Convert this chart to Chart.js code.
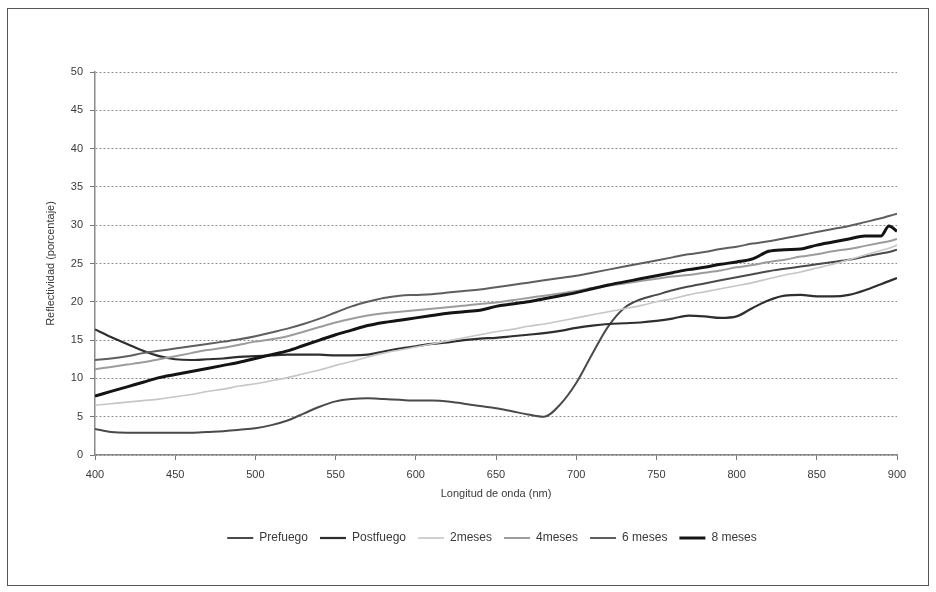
<!DOCTYPE html>
<html><head><meta charset="utf-8">
<script src="https://cdn.jsdelivr.net/npm/chart.js@4.4.0/dist/chart.umd.min.js"></script>
<style>
html,body{margin:0;padding:0;background:#fff;}
#wrap{position:relative;width:936px;height:592px;background:#fff;}
#frame{position:absolute;left:7px;top:8px;width:920px;height:576px;border:1px solid #555;pointer-events:none;}
canvas{position:absolute;left:0;top:0;}
</style></head><body>
<div id="wrap"><canvas id="c" width="936" height="592"></canvas><div id="frame"></div></div>
<script>
const wavelengths = [400,410,420,430,440,450,460,470,480,490,500,510,520,530,540,550,560,570,580,590,600,610,620,630,640,650,660,670,680,690,700,710,720,730,740,750,760,770,780,790,800,810,820,830,840,850,860,870,880,890,895,900];
const seriesNames = ["Prefuego","Postfuego","2meses","4meses","6 meses","8 meses"];
const prefuego = [3.4,3.0,2.9,2.9,2.9,2.9,2.9,3.0,3.1,3.3,3.5,3.9,4.5,5.4,6.3,7.0,7.3,7.4,7.3,7.2,7.1,7.1,7.0,6.7,6.4,6.1,5.7,5.3,5.0,6.6,9.4,13.2,16.8,19.2,20.3,20.9,21.5,22.0,22.4,22.8,23.2,23.6,24.0,24.3,24.6,24.9,25.2,25.5,25.9,26.3,26.5,26.8];
const postfuego = [16.4,15.4,14.5,13.6,12.9,12.5,12.4,12.5,12.6,12.8,12.9,13.0,13.1,13.1,13.1,13.0,13.0,13.1,13.5,13.9,14.2,14.5,14.7,15.0,15.2,15.3,15.5,15.7,15.9,16.2,16.6,16.9,17.1,17.2,17.3,17.5,17.8,18.2,18.1,17.9,18.1,19.2,20.2,20.8,20.9,20.7,20.7,20.9,21.5,22.3,22.7,23.1];
const meses2 = [6.5,6.7,6.9,7.1,7.3,7.6,7.9,8.3,8.6,9.0,9.3,9.7,10.1,10.6,11.1,11.7,12.2,12.8,13.3,13.7,14.1,14.5,14.9,15.3,15.7,16.1,16.4,16.8,17.1,17.5,17.9,18.3,18.7,19.1,19.5,20.0,20.4,20.9,21.3,21.7,22.1,22.5,23.0,23.5,23.9,24.4,24.9,25.5,26.1,26.7,27.0,27.4];
const meses4 = [11.2,11.5,11.8,12.1,12.5,12.9,13.3,13.7,14.0,14.4,14.8,15.1,15.5,16.1,16.7,17.3,17.8,18.2,18.5,18.7,18.9,19.1,19.3,19.5,19.7,19.9,20.2,20.5,20.8,21.1,21.4,21.8,22.1,22.4,22.7,23.0,23.3,23.5,23.8,24.1,24.5,24.8,25.2,25.5,25.9,26.2,26.6,26.9,27.3,27.7,27.9,28.2];
const meses6 = [12.4,12.6,12.9,13.3,13.6,13.9,14.2,14.5,14.8,15.1,15.5,16.0,16.5,17.1,17.8,18.6,19.4,20.0,20.5,20.8,20.9,21.0,21.2,21.4,21.6,21.9,22.2,22.5,22.8,23.1,23.4,23.8,24.2,24.6,25.0,25.4,25.8,26.2,26.5,26.9,27.2,27.6,27.9,28.3,28.7,29.1,29.5,29.9,30.4,30.9,31.2,31.5];
const meses8 = [7.7,8.3,8.9,9.5,10.1,10.5,10.9,11.3,11.7,12.1,12.6,13.1,13.6,14.3,15.0,15.7,16.3,16.9,17.3,17.6,17.9,18.2,18.5,18.7,18.9,19.4,19.7,20.0,20.4,20.8,21.2,21.7,22.2,22.6,23.0,23.4,23.8,24.2,24.5,24.9,25.2,25.6,26.6,26.8,26.9,27.4,27.8,28.2,28.6,28.6,29.9,29.2];
const yTicks = [0,5,10,15,20,25,30,35,40,45,50];
const xTicks = [400,450,500,550,600,650,700,750,800,850,900];

const values = [prefuego, postfuego, meses2, meses4, meses6, meses8];
const colors = ['#4a4a4a','#2e2e2e','#c6c6c6','#9c9c9c','#5e5e5e','#141414'];
const widths = [2,2.2,1.6,2,2,3];

const datasets = seriesNames.map((name,i)=>({
  label: name,
  data: wavelengths.map((w,j)=>({x:w, y:values[i][j]})),
  borderColor: colors[i],
  backgroundColor: colors[i],
  borderWidth: widths[i],
  pointRadius: 0,
  fill: false,
  cubicInterpolationMode: 'monotone',
  order: 6 - i
}));

const FONT = "'Liberation Sans', Arial, sans-serif";

const legendPos = {
  id: 'legendPos',
  beforeLayout(chart){
    const lg = chart.legend;
    if (lg && !lg._patched){
      const f = lg.fit.bind(lg);
      lg.fit = function(){ f(); this.height = 40; };
      lg._patched = true;
    }
  },
  afterLayout(chart){
    const lg = chart.legend, ca = chart.chartArea;
    if (!lg) return;
    lg.left = ca.left - 4; lg.right = ca.right - 4; lg.width = lg.right - lg.left;
    lg.top = 520; lg.bottom = 560; lg.height = 40;
  }
};

new Chart(document.getElementById('c'), {
  type: 'line',
  data: { datasets },
  plugins: [legendPos],
  options: {
    responsive: false,
    animation: false,
    devicePixelRatio: 1,
    layout: { padding: { left: 42, top: 72, right: 39, bottom: 47 } },
    plugins: {
      tooltip: { enabled: false },
      legend: {
        position: 'bottom',
        labels: {
          usePointStyle: true,
          pointStyle: 'line',
          pointStyleWidth: 26,
          padding: 12,
          color: '#3a3a3a',
          font: { family: FONT, size: 12 },
          sort: (a, b) => a.datasetIndex - b.datasetIndex
        }
      }
    },
    scales: {
      x: {
        type: 'linear',
        min: 400, max: 900,
        afterFit: s => { s.height = 50; },
        afterBuildTicks: s => { s.ticks = xTicks.map(v=>({value:v})); },
        ticks: { color: '#3a3a3a', font: { family: FONT, size: 11 }, padding: 8, maxRotation: 0 },
        grid: { drawOnChartArea: false, drawTicks: true, tickLength: 5, tickColor: '#777', color: '#777' },
        border: { display: true, color: '#8a8a8a', width: 1.5 },
        title: { display: true, text: 'Longitud de onda (nm)', color: '#3a3a3a', font: { family: FONT, size: 11 }, padding: { top: 4, bottom: 4 } }
      },
      y: {
        min: 0, max: 50,
        afterFit: s => { s.width = 53; },
        afterBuildTicks: s => { s.ticks = yTicks.map(v=>({value:v})); },
        ticks: { color: '#3a3a3a', font: { family: FONT, size: 11 }, padding: 7 },
        grid: { drawOnChartArea: true, drawTicks: true, tickLength: 5, color: '#8c8c8c', lineWidth: 1, tickColor: '#777', tickBorderDash: [] },
        border: { display: true, color: '#8a8a8a', width: 1.5, dash: [2,2] },
        title: { display: true, text: 'Reflectividad (porcentaje)', color: '#3a3a3a', font: { family: FONT, size: 11 }, padding: { top: 2, bottom: 4 } }
      }
    }
  }
});
</script>
</body></html>
